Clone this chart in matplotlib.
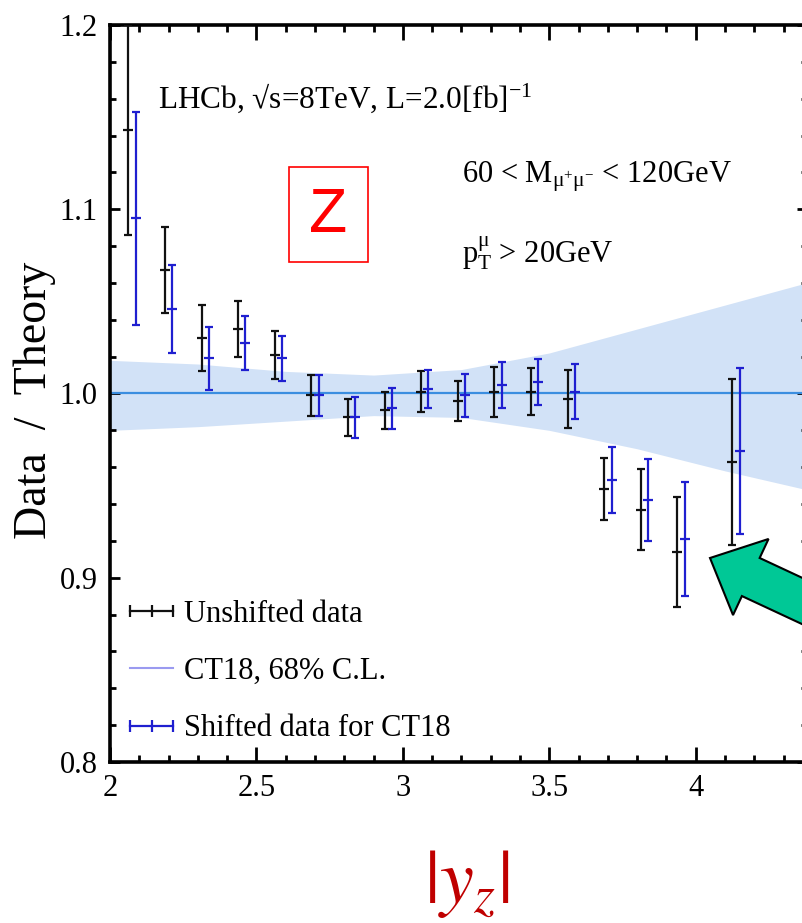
import numpy as np
import matplotlib
matplotlib.use("Agg")
import matplotlib.pyplot as plt
import matplotlib.patches as mpatches
from matplotlib.lines import Line2D
from matplotlib.ticker import MultipleLocator, FormatStrFormatter, FuncFormatter

# ---------------- data ----------------
y_bins = [2.0625, 2.1875, 2.3125, 2.4375, 2.5625, 2.6875, 2.8125, 2.9375,
          3.0625, 3.1875, 3.3125, 3.4375, 3.5625, 3.6875, 3.8125, 3.9375, 4.125]

unshifted = [1.143, 1.067, 1.030, 1.035, 1.021, 0.999, 0.987, 0.991,
             1.001, 0.996, 1.001, 1.001, 0.997, 0.948, 0.937, 0.914, 0.963]
unshifted_err = [0.057, 0.0235, 0.018, 0.015, 0.013, 0.011, 0.010, 0.010,
                 0.011, 0.011, 0.0135, 0.0127, 0.0157, 0.0168, 0.0219, 0.030, 0.045]

shifted = [1.095, 1.046, 1.019, 1.0275, 1.019, 0.999, 0.987, 0.992,
           1.0025, 0.999, 1.0047, 1.0063, 1.001, 0.953, 0.942, 0.921, 0.969]
shifted_err = [0.058, 0.024, 0.017, 0.0145, 0.0124, 0.011, 0.011, 0.011,
               0.0105, 0.0116, 0.0125, 0.0126, 0.015, 0.018, 0.0222, 0.031, 0.045]

# CT18 68% C.L. band
band_x = [2.0, 2.3, 2.6, 2.9, 3.2, 3.5, 3.8, 4.1, 4.4]
band_lo = [0.980, 0.982, 0.985, 0.988, 0.987, 0.980, 0.970, 0.958, 0.947]
band_hi = [1.018, 1.016, 1.012, 1.010, 1.013, 1.022, 1.035, 1.048, 1.061]

x_shift = 0.025

# ---------------- plot ----------------
plt.rcParams['font.family'] = ['Liberation Serif', 'DejaVu Serif']
plt.rcParams['mathtext.fontset'] = 'custom'
plt.rcParams['mathtext.rm'] = 'Liberation Serif'
plt.rcParams['mathtext.it'] = 'Liberation Serif:italic'

W, H = 803, 923
fig = plt.figure(figsize=(W / 100, H / 100), dpi=100)
fig.set_facecolor("white")

# axes: left spine at x=110px, bottom at y=762px, top at y=25px
ax = fig.add_axes([110 / W, 161 / H, 697 / W, 737 / H])
ax.set_xlim(2, 4.38)
ax.set_ylim(0.8, 1.2)

ax.fill_between(band_x, band_lo, band_hi, color='#d2e2f7', lw=0, zorder=1)
ax.axhline(1.0, color='#3b8ee0', lw=1.6, zorder=2)

ekw = dict(fmt='_', markersize=7, capsize=3, elinewidth=1.6, capthick=1.6,
           markeredgewidth=1.6, zorder=3)
ax.errorbar(y_bins, unshifted, yerr=unshifted_err, color='#111111', **ekw)
ax.errorbar(np.array(y_bins) + x_shift, shifted, yerr=shifted_err,
            color='#1f1fd0', **ekw)

for s in ax.spines.values():
    s.set_linewidth(2.6)
ax.xaxis.set_major_locator(MultipleLocator(0.5))
ax.xaxis.set_minor_locator(MultipleLocator(0.1))
ax.yaxis.set_major_locator(MultipleLocator(0.1))
ax.yaxis.set_minor_locator(MultipleLocator(0.02))
ax.xaxis.set_major_formatter(FuncFormatter(lambda v, p: '%g' % v))
ax.yaxis.set_major_formatter(FormatStrFormatter('%.1f'))
ax.tick_params(which='both', direction='in', top=True, right=True,
               labelsize=22, width=2)
ax.tick_params(axis='x', which='major', length=11, pad=9)
ax.tick_params(axis='x', which='minor', length=5)
ax.tick_params(axis='y', which='major', length=7.5, pad=9)
ax.tick_params(axis='y', which='minor', length=4.5)

ax.set_ylabel('Data  /  Theory', fontsize=33)
ax.yaxis.set_label_coords(-0.078, 0.49)

def frac(px, py):
    # picture pixels -> axes fraction
    return (px - 110) / 697, (762 - py) / 737

ax.text(*frac(158, 108), 'LHCb, √s=8TeV, L=2.0[fb]$^{-1}$', fontsize=22.5,
        transform=ax.transAxes, va='baseline')
ax.text(*frac(462, 183), '60 < M$_{\\mathrm{μ}^{+}\\mathrm{μ}^{-}}$ < 120GeV',
        fontsize=22, transform=ax.transAxes, va='baseline')
ax.text(*frac(462, 262), 'p$_{\\mathrm{T}}^{\\mathrm{μ}}$ > 20GeV', fontsize=22,
        transform=ax.transAxes, va='baseline')

handles = [
    Line2D([], [], color='#111111', marker='|', markersize=9, lw=1.6, mew=1.6),
    Line2D([], [], color='#9a9af0', lw=1.5),
    Line2D([], [], color='#1f1fd0', marker='|', markersize=9, lw=1.6, mew=1.6),
]
labels = ['Unshifted data', 'CT18, 68% C.L.', 'Shifted data for CT18']
ax.legend(handles, labels, loc='upper left', numpoints=3, frameon=False,
          fontsize=22, handlelength=2.0, handletextpad=0.05, labelspacing=0.92,
          borderpad=0, borderaxespad=0,
          bbox_to_anchor=(121 / W, 1 - 600 / H), bbox_transform=fig.transFigure)

# ---------------- overlay annotations (pixel coordinates) ----------------
ov = fig.add_axes([0, 0, 1, 1], facecolor='none')
ov.set_xlim(0, W)
ov.set_ylim(H, 0)
ov.axis('off')

ov.add_patch(mpatches.Rectangle((289, 167), 79, 95, fill=False,
                                edgecolor='red', lw=1.2))
ov.text(328.5, 216, 'Z', color='red', fontsize=45, family='Liberation Sans',
        ha='center', va='center')

ov.text(467, 884, '$|y_z|$', color='#c00000', fontsize=55,
        math_fontfamily='stix', ha='center', va='center')

ang = np.deg2rad(25)
L = 230
tip = (710, 558)
ov.add_patch(mpatches.FancyArrow(tip[0] + L * np.cos(ang), tip[1] + L * np.sin(ang),
                                 -L * np.cos(ang), -L * np.sin(ang),
                                 width=42, head_width=84, head_length=45,
                                 length_includes_head=True,
                                 facecolor='#00c896', edgecolor='black', lw=1.5))

fig.savefig('out.png', dpi=100)
